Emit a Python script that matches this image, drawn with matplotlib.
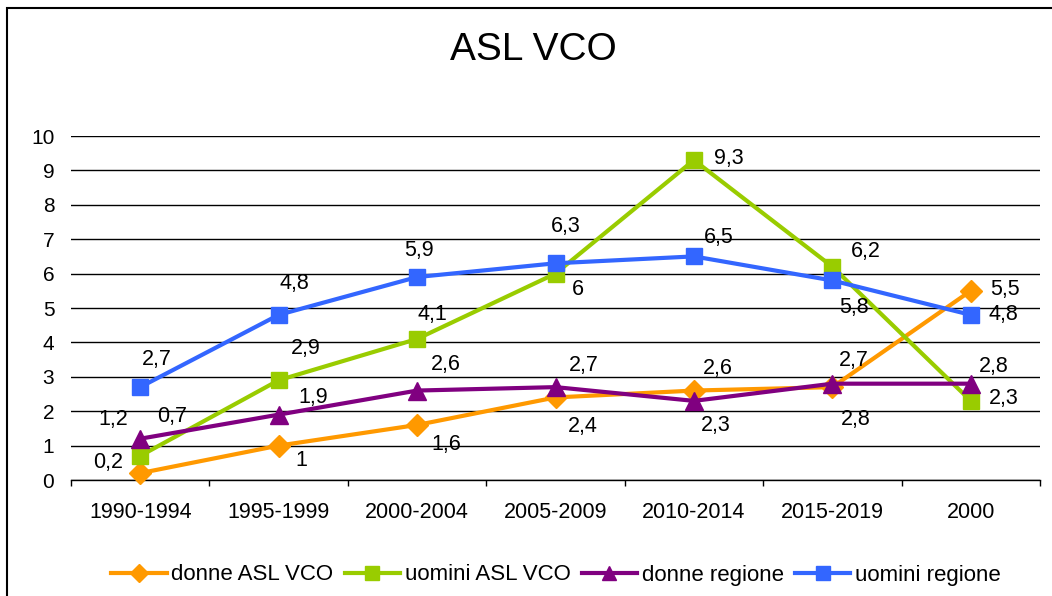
import matplotlib
matplotlib.use("Agg")
import matplotlib.pyplot as plt
from matplotlib.patches import Rectangle
from matplotlib.lines import Line2D

plt.rcParams['font.family'] = ['Liberation Sans', 'DejaVu Sans']

# ---- data ----
categories = ["1990-1994", "1995-1999", "2000-2004", "2005-2009",
              "2010-2014", "2015-2019", "2000"]
donne_asl = [0.2, 1.0, 1.6, 2.4, 2.6, 2.7, 5.5]
uomini_asl = [0.7, 2.9, 4.1, 6.0, 9.3, 6.2, 2.3]
donne_reg = [1.2, 1.9, 2.6, 2.7, 2.3, 2.8, 2.8]
uomini_reg = [2.7, 4.8, 5.9, 6.3, 6.5, 5.8, 4.8]
series_names = ["donne ASL VCO", "uomini ASL VCO", "donne regione", "uomini regione"]
title = "ASL VCO"
yticks = list(range(0, 11))

# ---- styles / layout ----
colors = ["#FF9900", "#99CC00", "#800080", "#3366FF"]
markers = ["D", "s", "^", "s"]
msizes = [11, 12, 13, 12]
# label offsets in pixels (dx, dy) for each point of each series
label_offsets = [
    [(-32, 11), (23, -15), (29, -20), (27, -29), (24, 22), (21, 27), (34, 1)],
    [(32, 39), (27, 32), (15, 24), (22, -16), (35, 2), (33, 15), (33, 2)],
    [(-27, 19), (35, 17), (29, 26), (28, 22), (22, -25), (23, -36), (23, 17)],
    [(17, 28), (16, 31), (2, 27), (10, 37), (25, 19), (22, -27), (33, 0)],
]

W, H = 1052, 596
fig = plt.figure(figsize=(W / 100, H / 100), dpi=100)
ax = fig.add_axes([71 / W, 1 - 480 / H, (1040 - 71) / W, (480 - 136) / H])

x = list(range(len(categories)))
all_series = [donne_asl, uomini_asl, donne_reg, uomini_reg]

for s, (vals, c, m, ms, name, offs) in enumerate(zip(all_series, colors, markers, msizes,
                                                    series_names, label_offsets)):
    ax.plot(x, vals, color=c, lw=3, marker=m, markersize=ms,
            markerfacecolor=c, markeredgecolor=c, label=name, zorder=3 + s,
            clip_on=False)
    for xi, v, (dx, dy) in zip(x, vals, offs):
        txt = ("%g" % v).replace(".", ",")
        ax.annotate(txt, (xi, v), xytext=(dx, dy), textcoords="offset pixels",
                    ha="center", va="center", fontsize=15.5, color="black", zorder=10)

ax.set_xlim(-0.5, len(categories) - 0.5)
ax.set_ylim(0, 10)
ax.set_yticks(yticks)
ax.set_yticklabels([str(t) for t in yticks], fontsize=15)
ax.set_xticks(x)
ax.set_xticklabels(categories, fontsize=15.5)
ax.set_xticks([i - 0.5 for i in range(len(categories) + 1)], minor=True)
ax.tick_params(axis="x", which="major", length=0, pad=16)
ax.tick_params(axis="x", which="minor", length=4, width=1, direction="out", color="black")
ax.tick_params(axis="y", length=0, pad=12)
ax.grid(axis="y", color="black", lw=1)
ax.set_axisbelow(True)
for sp in ["left", "right", "top"]:
    ax.spines[sp].set_visible(False)
ax.spines["bottom"].set_color("black")
ax.spines["bottom"].set_linewidth(1)

fig.text(533 / W, 1 - 50 / H, title, ha="center", va="center", fontsize=28)

handles = [Line2D([0], [0], color=c, lw=3, marker=m, markersize=ms * 0.8,
                  markerfacecolor=c, markeredgecolor=c)
           for c, m, ms in zip(colors, markers, msizes)]
fig.legend(handles, series_names, loc="center", bbox_to_anchor=(556 / W, 1 - 575 / H),
           ncol=4, frameon=False, fontsize=16, handlelength=2.5, handletextpad=0.2,
           columnspacing=0.5)

fig.patches.append(Rectangle((7 / W, -0.1), 1.2, 1 - 8 / H + 0.1, transform=fig.transFigure,
                             fill=False, edgecolor="black", lw=1.5))

fig.savefig("out.png", dpi=100)
